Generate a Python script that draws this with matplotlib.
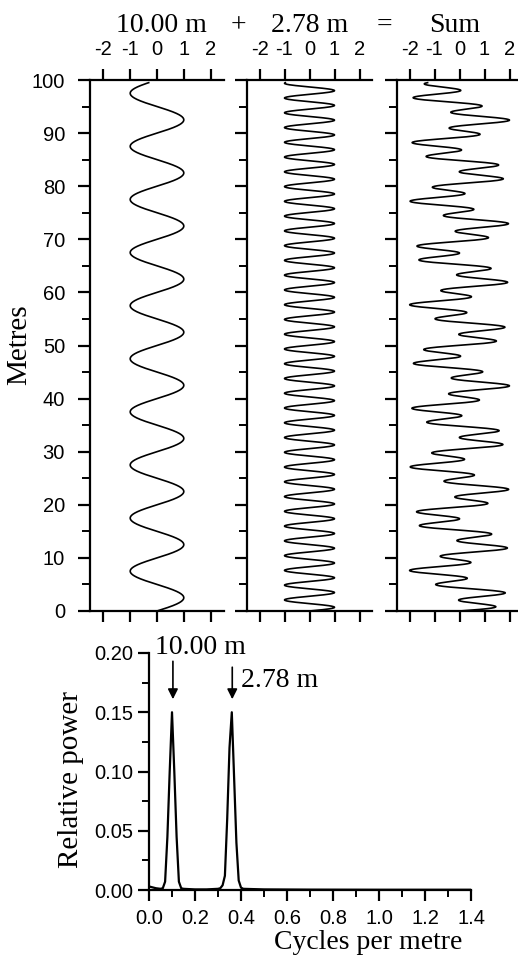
import numpy as np
import matplotlib
matplotlib.use('Agg')
import matplotlib.pyplot as plt
from matplotlib.ticker import MultipleLocator, FormatStrFormatter

# cyclic components (labelled wavelengths, metres) and depth range of the record
periods = [10.00, 2.78]
amplitudes = [1.0, 1.0]
depth_start, depth_end = 0.0, 99.5
panel_titles = ['10.00 m', '+', '2.78 m', '=', 'Sum']

# power spectrum
freq = [0.00, 0.01, 0.02, 0.03, 0.05, 0.06, 0.07, 0.08, 0.09, 0.10, 0.11, 0.12,
        0.13, 0.14, 0.15, 0.20, 0.25, 0.30, 0.31, 0.32, 0.33, 0.34, 0.35, 0.36,
        0.37, 0.38, 0.39, 0.40, 0.41, 0.50, 0.70, 1.00, 1.40]
power = [0.003, 0.0025, 0.002, 0.0015, 0.001, 0.0015, 0.007, 0.045, 0.100, 0.150, 0.100, 0.045,
         0.007, 0.0015, 0.001, 0.0005, 0.0005, 0.001, 0.0015, 0.004, 0.012, 0.060, 0.120, 0.150,
         0.095, 0.040, 0.008, 0.002, 0.001, 0.0005, 0.0003, 0.0002, 0.0002]

serif = 'Liberation Serif'
plt.rcParams['font.family'] = ['Liberation Sans Narrow', 'Liberation Sans']
plt.rcParams['font.size'] = 14.5

W, H = 518, 959
fig = plt.figure(figsize=(W / 100, H / 100), dpi=100)


def px_axes(x0, x1, ytop, ybot):
    return fig.add_axes([x0 / W, (H - ybot) / H, (x1 - x0) / W, (ybot - ytop) / H])


depth = np.arange(depth_start, depth_end + 0.001, 0.05)
waves = [a * np.sin(2 * np.pi * depth / p) for a, p in zip(amplitudes, periods)]
waves.append(waves[0] + waves[1])

boxes = [(90, 224), (247, 372), (397, 522)]
for i, (x0, x1) in enumerate(boxes):
    ax = px_axes(x0, x1, 80, 611)
    ax.plot(waves[i], depth, c='k', lw=1.2)
    ax.set_xlim(-2.5, 2.5)
    ax.set_ylim(0, 100)
    ax.set_xticks([-2, -1, 0, 1, 2])
    ax.set_xticklabels(['-2', '-1', '0', '1', '2'])
    ax.yaxis.set_major_locator(MultipleLocator(10))
    ax.yaxis.set_minor_locator(MultipleLocator(5))
    ax.spines['right'].set_visible(False)
    for s in ['left', 'top', 'bottom']:
        ax.spines[s].set_linewidth(1.6)
    ax.tick_params(axis='x', which='major', top=True, bottom=True, labeltop=True,
                   labelbottom=False, direction='out', length=8, width=1.6, pad=7)
    ax.tick_params(axis='y', which='major', direction='out', length=9, width=1.6, pad=9,
                   labelleft=(i == 0))
    ax.tick_params(axis='y', which='minor', direction='out', length=6, width=1.4)
    if i == 0:
        ax.set_ylabel('Metres', family=serif, fontsize=21)
        ax.yaxis.set_label_coords(32 / W, (H - 345) / H, transform=fig.transFigure)

# titles with operators between them
for txt, xc in zip(panel_titles, [161, 238, 310, 384, 455]):
    fig.text(xc / W, (H - 32) / H, txt, family=serif, fontsize=20,
             ha='center', va='baseline')

# spectrum
ax = px_axes(149, 471, 653, 890)
ax.plot(freq, power, c='k', lw=1.6)
ax.set_xlim(0, 1.4)
ax.set_ylim(0, 0.2)
ax.xaxis.set_major_locator(MultipleLocator(0.2))
ax.xaxis.set_minor_locator(MultipleLocator(0.1))
ax.yaxis.set_major_locator(MultipleLocator(0.05))
ax.yaxis.set_minor_locator(MultipleLocator(0.025))
ax.xaxis.set_major_formatter(FormatStrFormatter('%.1f'))
ax.yaxis.set_major_formatter(FormatStrFormatter('%.2f'))
ax.spines['right'].set_visible(False)
ax.spines['top'].set_visible(False)
for s in ['left', 'bottom']:
    ax.spines[s].set_linewidth(1.6)
ax.tick_params(which='major', direction='out', length=8, width=1.6)
ax.tick_params(which='minor', direction='out', length=5, width=1.4)
ax.tick_params(axis='x', pad=6)
ax.tick_params(axis='y', pad=3)
ax.set_ylabel('Relative power', family=serif, fontsize=21)
ax.yaxis.set_label_coords(84 / W, (H - 780) / H, transform=fig.transFigure)
ax.set_xlabel('Cycles per metre', family=serif, fontsize=20)
ax.xaxis.set_label_coords(368 / W, (H - 930) / H, transform=fig.transFigure)

arrow = dict(arrowstyle='-|>', color='k', lw=1.2, mutation_scale=15, shrinkA=0, shrinkB=0)
ax.annotate('', xy=(0.104, 0.161), xytext=(0.104, 0.193), arrowprops=arrow)
ax.annotate('', xy=(0.362, 0.161), xytext=(0.362, 0.188), arrowprops=arrow)
ax.text(0.222, 0.199, '10.00 m', family=serif, fontsize=20, ha='center', va='baseline')
ax.text(0.40, 0.171, '2.78 m', family=serif, fontsize=20, ha='left', va='baseline')

fig.savefig('out.png', dpi=100)
